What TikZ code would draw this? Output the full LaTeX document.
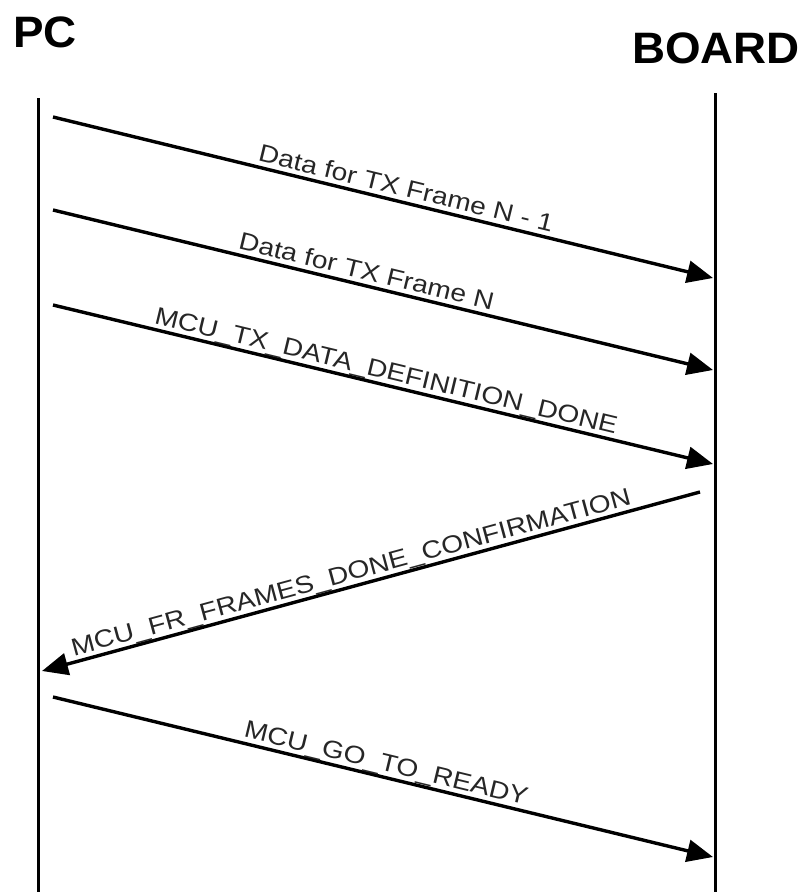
\documentclass[tikz,border=0pt]{standalone}
\usepackage{fontspec}
\setmainfont{Liberation Sans}
\newfontfamily\msgfont[FakeStretch=1.15]{Liberation Sans}
\newfontfamily\partyfont[FakeStretch=1.04]{Liberation Sans}
\usepackage{tikz}
\usetikzlibrary{arrows.meta}

\begin{document}
\begin{tikzpicture}[x=1pt, y=-1pt,
    lifeline/.style={line width=3pt},
    msg/.style={line width=3.4pt, -{Triangle[length=26pt, width=22pt]}},
    msglabel/.style={sloped, anchor=base, inner sep=0pt, yshift=6pt,
        font=\msgfont\fontsize{24.5}{28}\selectfont, text=black!85},
    party/.style={anchor=base west, inner sep=0pt,
        font=\partyfont\bfseries\fontsize{44}{50}\selectfont}]
    \useasboundingbox (0,0) rectangle (805,892);

    % Parties
    \node[party] (pc) at (13,47) {PC};
    \node[party] (board) at (632,63) {BOARD};

    % Lifelines
    \coordinate (pctop) at (38,98);
    \coordinate (pcbot) at (38,892);
    \coordinate (boardtop) at (715,93);
    \coordinate (boardbot) at (715,892);
    \draw[lifeline] (pctop) -- (pcbot);
    \draw[lifeline] (boardtop) -- (boardbot);

    % Message ends
    \coordinate (m1a) at (53,117);  \coordinate (m1b) at (713,278);
    \coordinate (m2a) at (53,210);  \coordinate (m2b) at (713,370);
    \coordinate (m3a) at (53,305);  \coordinate (m3b) at (713,464);
    \coordinate (m4a) at (700,492); \coordinate (m4b) at (42,671);
    \coordinate (m5a) at (53,697);  \coordinate (m5b) at (713,857);

    % Messages
    \draw[msg] (m1a) -- node[msglabel, pos=0.53] (l1) {Data for TX Frame N - 1} (m1b);
    \draw[msg] (m2a) -- node[msglabel, pos=0.47] (l2) {Data for TX Frame N} (m2b);
    \draw[msg] (m3a) -- node[msglabel, pos=0.5] (l3) {MCU\_TX\_DATA\_DEFINITION\_DONE} (m3b);
    \draw[msg] (m4a) -- node[msglabel, pos=0.525] (l4) {MCU\_FR\_FRAMES\_DONE\_CONFIRMATION} (m4b);
    \draw[msg] (m5a) -- node[msglabel, pos=0.5] (l5) {MCU\_GO\_TO\_READY} (m5b);
\end{tikzpicture}
\end{document}
